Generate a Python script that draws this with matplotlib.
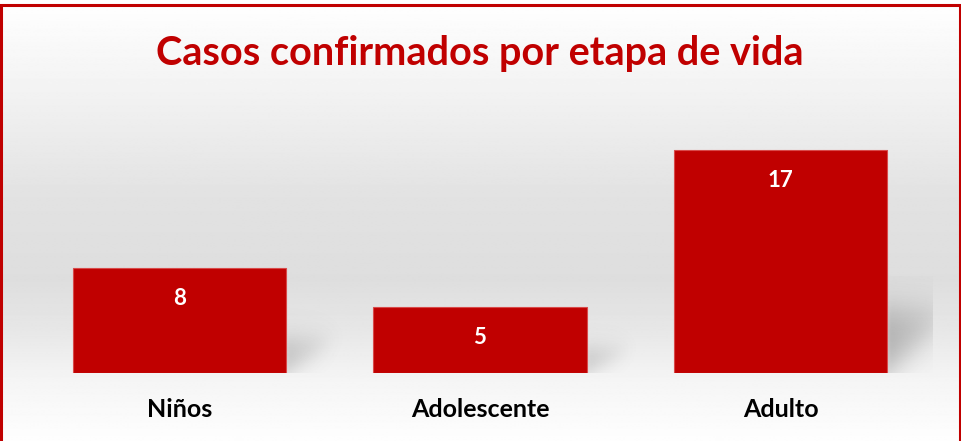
import numpy as np
import matplotlib
matplotlib.use("Agg")
import matplotlib.pyplot as plt

# data
etapas = ["Niños", "Adolescente", "Adulto"]
casos = [8, 5, 17]

titulo = "Casos confirmados por etapa de vida"
rojo = "#C00000"

W, H, DPI = 961, 441, 100
fig = plt.figure(figsize=(W / DPI, H / DPI), dpi=DPI)

# background gradient (white -> light grey -> white)
bg = fig.add_axes([0, 0, 1, 1], zorder=-10)
yy = np.linspace(0, H, 400)
stops_y = [0, 100, 200, 280, 330, 380, 441]
stops_v = [1.0, 0.945, 0.885, 0.87, 0.905, 0.96, 0.995]
col = np.interp(yy, stops_y, stops_v)
grad = np.repeat(col[:, None], 2, axis=1)
bg.imshow(grad, cmap="gray", vmin=0, vmax=1, aspect="auto",
          extent=[0, 1, 1, 0], interpolation="bilinear")
bg.set_xlim(0, 1)
bg.set_ylim(1, 0)
bg.axis("off")

# red frame
px = lambda v, n: v / n
bg.plot([px(1, W), px(1, W), px(959.5, W), px(959.5, W)],
        [px(H + 5, H), px(5, H), px(5, H), px(H + 5, H)],
        color="#C00000", lw=2.2, solid_joinstyle="miter", clip_on=False)

# main axes, 300.5 px per category, 13.12 px per unit
x_left = 29.25
ax_w = 903.5
y_bottom = 373
ax_h = 13.12 * 20
ax = fig.add_axes([x_left / W, (H - y_bottom) / H, ax_w / W, ax_h / H])
ax.set_facecolor("none")

xs = np.arange(len(etapas))
bw = 0.709
xmax = -0.5 + ax_w / 300.5

sig = lambda z: 1 / (1 + np.exp(-z))

# soft wedge shadows to the right of each bar
for x, v in zip(xs, casos):
    xr = x + bw / 2
    ht = 0.25 * v + 0.6
    L = 0.1 + 0.006 * v
    gx = np.linspace(xr - 0.01, xr + L + 0.08, 160)
    gy = np.linspace(-0.5, ht + 2.5, 160)
    GX, GY = np.meshgrid(gx, gy)
    t = np.clip((GX - xr) / L, 0, 1.3)
    sy = 0.12 * ht + 0.25
    sx = 0.012 + 0.0012 * v
    a = (sig((GX - xr) / 0.004) * sig((xr + L - GX) / sx)
         * sig((ht - GY) / sy) * sig((GY - t * ht * 0.85) / sy))
    a = a * (1 - 0.4 * t) * (0.2 + 0.01 * v)
    rgba = np.zeros(a.shape + (4,))
    rgba[..., :3] = 0.3
    rgba[..., 3] = np.clip(a, 0, 1)
    ax.imshow(rgba, extent=[gx[0], gx[-1], gy[0], gy[-1]], origin="lower",
              aspect="auto", interpolation="bilinear", zorder=1)
ax.set_xlim(-0.5, xmax)
ax.set_ylim(0, 20)

bars = ax.bar(xs, casos, width=bw, color=rojo, edgecolor="#d84a4a",
              linewidth=0.8, zorder=2)

for b, v in zip(bars, casos):
    ax.annotate(str(v), (b.get_x() + b.get_width() / 2, v),
                xytext=(0, -22), textcoords="offset points",
                ha="center", va="center", color="white",
                fontsize=16, fontweight="bold", family="Lato", zorder=3)

ax.set_xticks(xs, etapas)
ax.tick_params(axis="x", length=0, pad=18, labelsize=18)
for lab in ax.get_xticklabels():
    lab.set_fontweight("bold")
    lab.set_family("Lato")
ax.set_yticks([])
for s in ax.spines.values():
    s.set_visible(False)

fig.text(480 / W, 1 - 54 / H, titulo, ha="center", va="center",
         color=rojo, fontsize=28.5, fontweight="bold", family="Lato")

fig.savefig("out.png", dpi=DPI)
